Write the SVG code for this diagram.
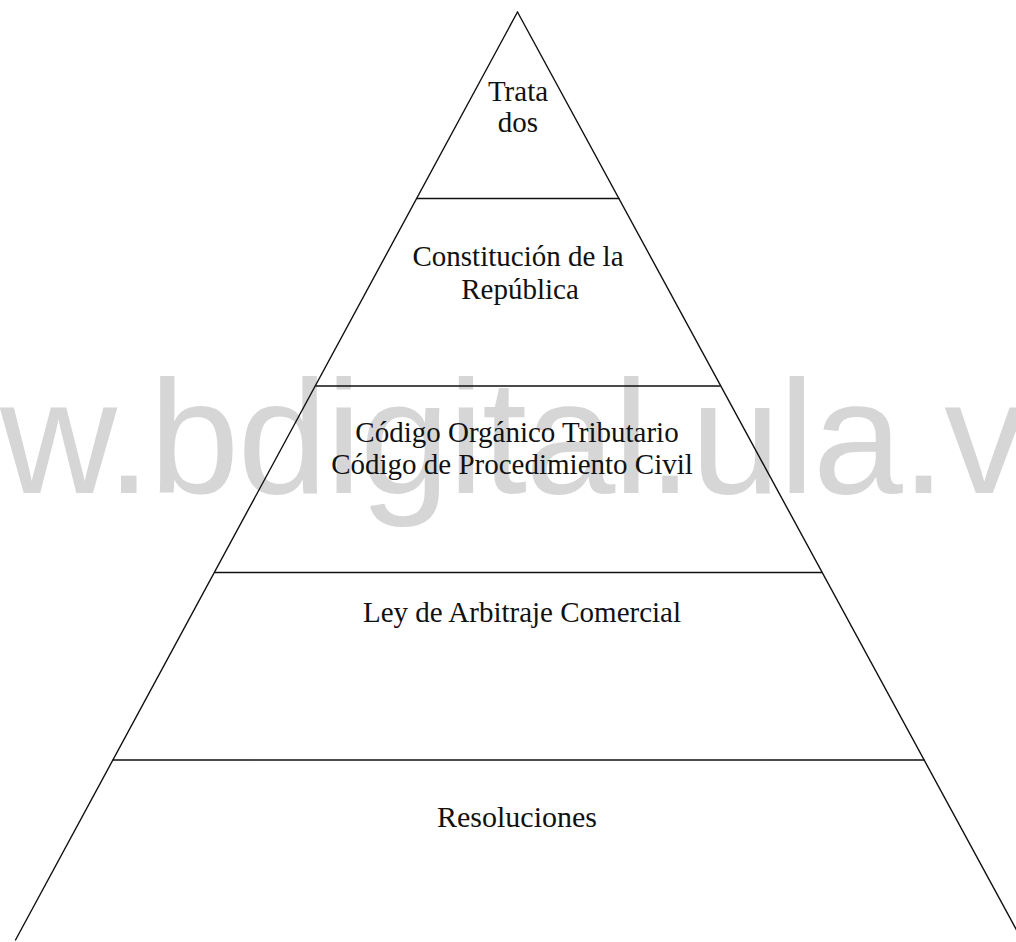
<svg xmlns="http://www.w3.org/2000/svg" width="1016" height="942" viewBox="0 0 1016 942">
  <style>
    .edge { stroke: #111; stroke-width: 1.4; fill: none; stroke-linecap: round; }
    .lbl { font-family: "Liberation Serif", "Times New Roman", serif; font-size: 29px; fill: #111; text-anchor: middle; }
    .wm { font-family: "Liberation Sans", Arial, sans-serif; font-size: 162px; letter-spacing: -1.9px; fill: #d6d6d6; }
  </style>
  <rect width="1016" height="942" fill="#ffffff"/>
  <text id="watermark" class="wm" x="0" y="493">w.bdigital.ula.v</text>
  <g id="connectors">
    <line class="edge" x1="517.5" y1="12" x2="15.5" y2="940"/>
    <line class="edge" x1="517.5" y1="12" x2="1022" y2="940"/>
    <line class="edge" x1="417" y1="198.5" x2="619" y2="198.5"/>
    <line class="edge" x1="316" y1="386" x2="720" y2="386"/>
    <line class="edge" x1="215" y1="572.5" x2="822" y2="572.5"/>
    <line class="edge" x1="113" y1="760" x2="924" y2="760"/>
  </g>
  <g id="tier-tratados">
    <text class="lbl" x="518" y="101">Trata</text>
    <text class="lbl" x="518" y="132">dos</text>
  </g>
  <g id="tier-constitucion">
    <text class="lbl" x="518" y="266">Constitución de la</text>
    <text class="lbl" x="520" y="299">República</text>
  </g>
  <g id="tier-codigos">
    <text class="lbl" x="517" y="442">Código Orgánico Tributario</text>
    <text class="lbl" x="512" y="474">Código de Procedimiento Civil</text>
  </g>
  <g id="tier-ley">
    <text class="lbl" x="522" y="622">Ley de Arbitraje Comercial</text>
  </g>
  <g id="tier-resoluciones">
    <text class="lbl" x="517" y="827" style="font-size:30px">Resoluciones</text>
  </g>
</svg>
